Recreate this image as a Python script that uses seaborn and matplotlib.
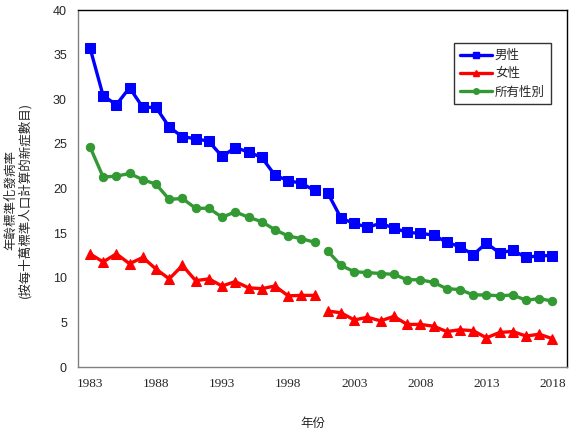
import matplotlib
matplotlib.use("Agg")
import matplotlib.pyplot as plt
import seaborn as sns
import pandas as pd
from matplotlib.lines import Line2D

# data
years = list(range(1983, 2019))
male = [35.8, 30.4, 29.4, 31.3, 29.1, 29.1, 26.9, 25.8, 25.6, 25.3,
        23.6, 24.6, 24.1, 23.5, 21.5, 20.9, 20.6, 19.8,
        19.5, 16.7, 16.1, 15.7, 16.1, 15.6, 15.1, 15.0, 14.8, 14.0,
        13.5, 12.6, 13.9, 12.8, 13.1, 12.3, 12.5, 12.5]
female = [12.7, 11.8, 12.7, 11.6, 12.3, 11.0, 9.9, 11.4, 9.7, 9.9,
          9.1, 9.6, 8.9, 8.8, 9.1, 8.0, 8.05, 8.05,
          6.3, 6.1, 5.3, 5.6, 5.2, 5.7, 4.8, 4.8, 4.6, 4.0,
          4.2, 4.1, 3.3, 3.9, 4.0, 3.5, 3.7, 3.2]
overall = [24.7, 21.3, 21.4, 21.7, 21.0, 20.5, 18.8, 18.9, 17.8, 17.8,
           16.8, 17.4, 16.8, 16.3, 15.4, 14.7, 14.4, 14.0,
           13.0, 11.4, 10.7, 10.6, 10.5, 10.4, 9.8, 9.8, 9.5, 8.8,
           8.7, 8.1, 8.1, 8.0, 8.1, 7.5, 7.7, 7.4]
series_names = ["男性", "女性", "所有性別"]
break_year = 2001  # lines are not joined across 2000/2001

df = pd.DataFrame({"年份": years, "男性": male, "女性": female, "所有性別": overall})
long_df = df.melt(id_vars="年份", var_name="性別", value_name="率")
long_df["段"] = (long_df["年份"] >= break_year).astype(int)

colors = {"男性": "#0000FF", "女性": "#FF0000", "所有性別": "#339933"}
markers = {"男性": "s", "女性": "^", "所有性別": "o"}
msizes = {"男性": 7, "女性": 7, "所有性別": 6}

sns.set_style("white")
plt.rcParams["font.family"] = ["Noto Sans CJK TC", "DejaVu Sans"]

fig = plt.figure(figsize=(5.88, 4.43), dpi=100)
ax = fig.add_axes([0.1327, 0.1709, 0.8316, 0.8065])

for name in series_names:
    sub = long_df[long_df["性別"] == name]
    for seg, part in sub.groupby("段"):
        sns.lineplot(data=part, x="年份", y="率", ax=ax, color=colors[name],
                     marker=markers[name], markersize=msizes[name],
                     markeredgecolor=colors[name], linewidth=2.4,
                     legend=False)

ax.set_xlim(1982.1, 2019.1)
ax.set_ylim(0, 40)
ax.set_xticks(list(range(1983, 2020)), minor=True)
ax.set_xticks(list(range(1983, 2019, 5)))
ax.set_xticklabels([str(y) for y in range(1983, 2019, 5)],
                   family="Liberation Serif", fontsize=9.5)
ax.set_yticks(list(range(0, 41, 5)))
ax.set_yticklabels([str(v) for v in range(0, 41, 5)],
                   family="Liberation Sans", fontsize=9)
ax.tick_params(axis="x", which="both", direction="in", length=3,
               color="#808080", pad=8)
ax.tick_params(axis="y", length=0, pad=8)
ax.set_xlabel("")
ax.set_ylabel("")

for side in ["left", "bottom"]:
    ax.spines[side].set_color("#808080")
    ax.spines[side].set_linewidth(1.0)
for side in ["top", "right"]:
    ax.spines[side].set_color("black")
    ax.spines[side].set_linewidth(1.0)

handles = [Line2D([], [], color=colors[n], marker=markers[n], markersize=msizes[n] - 2,
                  linewidth=2.4) for n in series_names]
leg = ax.legend(handles, series_names, loc="upper left",
                bbox_to_anchor=(0.7696, 0.9068), frameon=True, fancybox=False,
                fontsize=9, handlelength=2.6, handletextpad=0.2,
                borderpad=0.45, labelspacing=0.42, borderaxespad=0)
leg.get_frame().set_edgecolor("black")
leg.get_frame().set_linewidth(1.0)

fig.text(0.532, 1 - 423 / 443, "年份", ha="center", va="center", fontsize=9)
fig.text(0.03, 1 - 200 / 443, "年齡標準化發病率\n(按每十萬標準人口計算的新症數目)",
         ha="center", va="center", rotation=90, fontsize=9, linespacing=1.1)

fig.savefig("out.png", dpi=100)
